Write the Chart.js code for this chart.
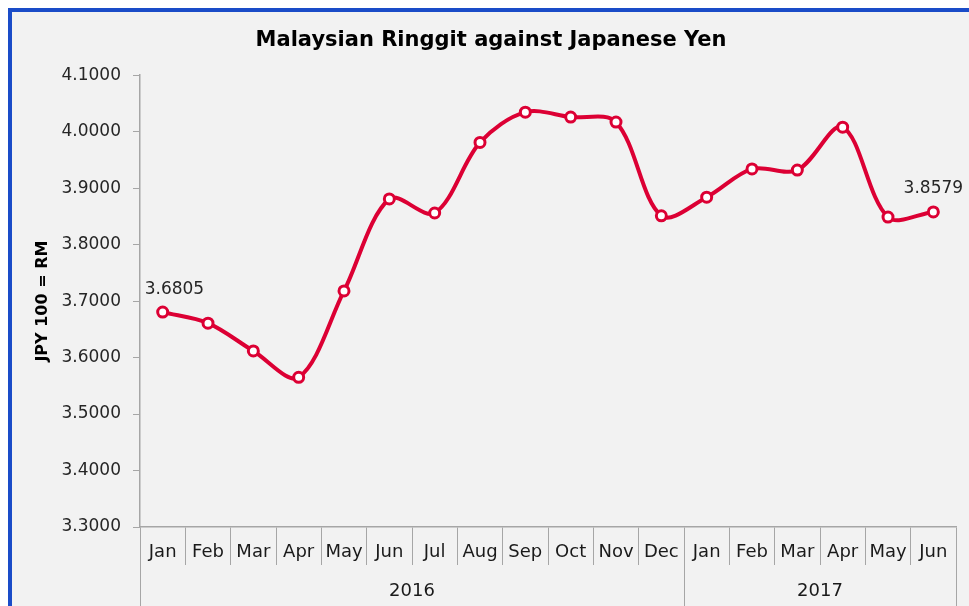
<!DOCTYPE html>
<html>
<head>
<meta charset="utf-8">
<script src="https://cdn.jsdelivr.net/npm/chart.js@4"></script>
<style>
  html, body { margin: 0; padding: 0; background: #fff; overflow: hidden; }
  .frame {
    position: absolute; left: 8px; top: 8px; width: 1020px; height: 660px;
    border: 4px solid #1a4cc8; background: #f2f2f2;
  }
  #wrap { position: absolute; left: 0; top: 0; width: 969px; height: 606px; }
</style>
</head>
<body>
<div class="frame"></div>
<div id="wrap"><canvas id="rmJpy" width="969" height="606"></canvas></div>
<script>
// ── Données ────────────────────────────────────────────────────────────────
const MONTHS = ['Jan', 'Feb', 'Mar', 'Apr', 'May', 'Jun', 'Jul', 'Aug', 'Sep', 'Oct', 'Nov', 'Dec',
                'Jan', 'Feb', 'Mar', 'Apr', 'May', 'Jun'];
const YEARS = ['2016', '2017'];
const YEAR_SPANS = [12, 6];          // nombre de mois par année
const RM_PER_100JPY = [3.6805, 3.6610, 3.6117, 3.5650, 3.7180, 3.8810, 3.8560, 3.9810, 4.0346, 4.0258, 4.0170, 3.8510,
                       3.8840, 3.9340, 3.9320, 4.0080, 3.8487, 3.8579];
const POINT_LABELS = ['3.6805', null, null, null, null, null, null, null, null, null, null, null,
                     null, null, null, null, null, '3.8579'];

const FONT = "'Century Gothic', 'DejaVu Sans', sans-serif";
const RED  = '#dc0034';
const AXIS = '#a6a6a6';

// bornes des années sur l'axe secondaire : 0, 12, 18 / milieux : 6, 15
const yearEdges = [0];
YEAR_SPANS.forEach(s => yearEdges.push(yearEdges[yearEdges.length - 1] + s));
const yearMids = YEAR_SPANS.map((s, i) => yearEdges[i] + s / 2);

// ── Étiquettes de valeur ──────────────────────────────────────────────────
const pointLabelPlugin = {
  id: 'pointLabels',
  afterDatasetsDraw(chart) {
    const { ctx } = chart;
    const pts = chart.getDatasetMeta(0).data;
    ctx.save();
    ctx.font = `17px ${FONT}`;
    ctx.fillStyle = '#262626';
    ctx.textBaseline = 'middle';
    pts.forEach((p, i) => {
      if (!POINT_LABELS[i]) return;
      ctx.textAlign = i === 0 ? 'left' : 'center';
      ctx.fillText(POINT_LABELS[i], i === 0 ? p.x - 18 : p.x, p.y - 23);
    });
    ctx.restore();
  },
};

new Chart(document.getElementById('rmJpy'), {
  type: 'line',
  data: {
    labels: MONTHS,
    datasets: [{
      data: RM_PER_100JPY,
      borderColor: RED, borderWidth: 4,
      tension: 0.33,
      pointRadius: 5, pointHoverRadius: 5,
      pointBackgroundColor: '#fff', pointBorderColor: RED, pointBorderWidth: 3,
    }],
  },
  plugins: [pointLabelPlugin],
  options: {
    responsive: false, animation: false,
    layout: { padding: { left: 26, right: 13, top: 0, bottom: 0 } },
    plugins: {
      legend: { display: false },
      tooltip: { enabled: false },
      title: {
        display: true, text: 'Malaysian Ringgit against Japanese Yen',
        color: '#000', font: { family: FONT, size: 21, weight: 'bold' },
        padding: { top: 28, bottom: 22 },
      },
    },
    scales: {
      y: {
        min: 3.3, max: 4.1,
        ticks: { stepSize: 0.1, color: '#262626', padding: 12,
                 font: { family: FONT, size: 17 }, callback: v => v.toFixed(4) },
        grid: { drawOnChartArea: false, color: AXIS, tickLength: 7 },
        border: { color: AXIS, width: 1.5 },
        title: { display: true, text: 'JPY 100 = RM', color: '#000',
                 font: { family: FONT, size: 16, weight: 'bold' }, padding: { top: 7, bottom: 0 } },
        afterFit: s => { s.width = 114; },
      },
      x: {
        offset: true,
        ticks: { color: '#1a1a1a', padding: -23, maxRotation: 0, autoSkip: false,
                 font: { family: FONT, size: 18 } },
        grid: { offset: true, drawOnChartArea: false, color: AXIS, tickLength: 38 },
        border: { color: AXIS, width: 1.5 },
        afterFit: s => { s.height = 38; },
      },
      x2: {
        type: 'linear', position: 'bottom',
        min: 0, max: yearEdges[yearEdges.length - 1],
        afterBuildTicks: s => {
          s.ticks = [...yearEdges, ...yearMids].sort((a, b) => a - b).map(v => ({ value: v }));
        },
        ticks: {
          color: '#1a1a1a', padding: -25, maxRotation: 0, autoSkip: false,
          font: { family: FONT, size: 18 },
          callback: v => { const i = yearMids.indexOf(v); return i >= 0 ? YEARS[i] : ''; },
        },
        grid: {
          drawOnChartArea: false, tickLength: 41,
          color: c => (c.tick && yearEdges.includes(c.tick.value)) ? AXIS : 'rgba(0,0,0,0)',
        },
        border: { display: false },
        afterFit: s => { s.height = 41; },
      },
    },
  },
});
</script>
</body>
</html>
